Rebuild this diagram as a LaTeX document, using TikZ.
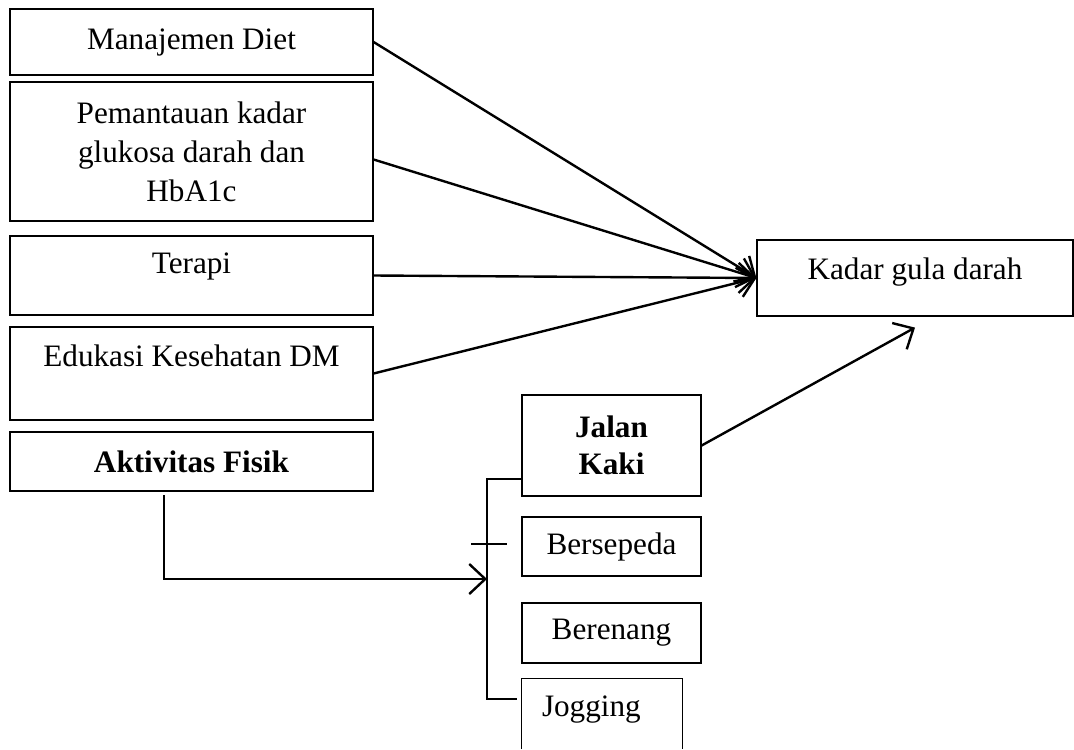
\documentclass[tikz,border=0pt]{standalone}
\usepackage{fontspec}
\setmainfont{Liberation Serif}
\usetikzlibrary{arrows.meta}

\begin{document}
\begin{tikzpicture}[x=0.5pt, y=-0.5pt, font=\fontsize{15.6}{19.5}\selectfont,
	box/.style={draw, line width=0.6pt, inner sep=0pt, align=center},
	bold/.style={font=\fontsize{15.6}{18.5}\selectfont\bfseries},
	arr/.style={line width=1.2pt, -{Straight Barb[length=8pt, width=15pt, line width=1.2pt]}}]
				\useasboundingbox (0,0) rectangle (1074,749);
				\path (191.5,42) node[box, minimum width=181.5pt, minimum height=33pt] (b1){Manajemen Diet}
				(191.5,151.5) node[box, minimum width=181.5pt, minimum height=69.5pt] (b2){Pemantauan kadar\\glukosa darah dan\\HbA1c}
				(191.5,275.5) node[box, minimum width=181.5pt, minimum height=39.5pt, text depth=12.5pt] (b3){Terapi}
				(191.5,373.5) node[box, minimum width=181.5pt, minimum height=46.5pt, text depth=17.5pt] (b4){Edukasi Kesehatan DM}
				(191.5,461.5) node[box, bold, minimum width=181.5pt, minimum height=29.5pt] (b5){Aktivitas Fisik}
				(915,278) node[box, minimum width=158pt, minimum height=38pt, text depth=9.4pt] (kadar){Kadar gula darah}
				(611.5,445.5) node[box, bold, minimum width=89.5pt, minimum height=50.5pt] (jalan){Jalan\\Kaki}
				(611.5,546.5) node[box, minimum width=89.5pt, minimum height=29.5pt] (sepeda){Bersepeda}
				(611.5,633) node[box, minimum width=89.5pt, minimum height=30pt] (renang){Berenang}
				(602,710) node[box, draw=none, minimum height=31pt, text width=60pt, inner xsep=10pt, align=left] (jog){Jogging};

				\draw[line width=0.6pt] (jog.west |- 0,749) -- (jog.north west) -- (jog.north east) -- (jog.east |- 0,749);

				\draw[arr] (b1.east) -- (kadar.west);
				\draw[arr] ([yshift=-4pt]b2.east) -- (kadar.west);
				\draw[arr] (b3.east) -- (kadar.west);
				\draw[arr] (b4.east) -- (kadar.west);
				\coordinate (kin) at ([yshift=-5.5pt]kadar.south);
				\draw[arr] (jalan.east) -- (kin);

				\coordinate (bt) at (487,479);
				\coordinate (bb) at (487,699);
				\coordinate (bm) at (487,579);
				\coordinate (jb) at (517,699);
				\coordinate (af) at (164,495);
				\draw[line width=0.8pt] (jalan.west |- bt) -- (bt) -- (bb) -- (jb);
				\draw[line width=0.8pt] (471,544) -- (507,544);
				\draw[arr] (af) |- (bm);
			\end{tikzpicture}
\end{document}
